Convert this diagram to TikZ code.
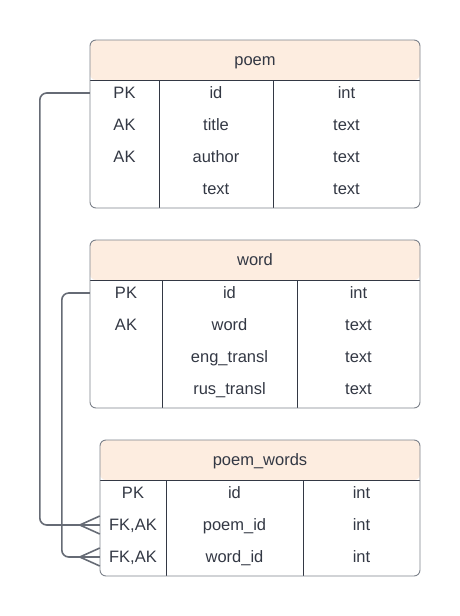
\documentclass[tikz,border=0pt]{standalone}
\usepackage{fontspec}
\setmainfont{Liberation Sans}
\usetikzlibrary{positioning}

\definecolor{headfill}{HTML}{FDEDE0}
\definecolor{boxline}{HTML}{7D828B}
\definecolor{inkgray}{HTML}{333844}
\definecolor{wiregray}{HTML}{666B75}

\tikzset{
  tbox/.style={draw=boxline,line width=0.9pt,rounded corners=6pt},
  colline/.style={draw=inkgray,line width=0.7pt},
  cell/.style={inner sep=0pt,minimum height=32pt,text height=14pt,text depth=3.5pt,
    text=inkgray,font=\fontsize{16.5}{18}\selectfont},
  wire/.style={draw=wiregray,line width=1.6pt,rounded corners=7pt},
  crow/.style={draw=wiregray,line width=1.6pt}
}

\begin{document}
\begin{tikzpicture}[x=1pt,y=-1pt]
            \useasboundingbox (0,0) rectangle (460,616);

            % poem
            \fill[headfill,rounded corners=6pt] (90,40) rectangle (420,80);
            \draw[colline] (90,80) -- (420,80);
            \draw[colline] (159,80) -- (159,208);
            \draw[colline] (273,80) -- (273,208);
            \draw[tbox] (90,40) rectangle (420,208);
            \node[cell] (poem) at (255,60) {poem};
            \node[cell,minimum width=69pt] (poempk) at (124.5,93) {PK};
            \node[cell] (poemid) at (216,93) {id};
            \node[cell] (poemidt) at (346.5,93) {int};
            \node[cell] (poemak1) at (124.5,125) {AK};
            \node[cell] (poemtitle) at (216,125) {title};
            \node[cell] (poemtitlet) at (346.5,125) {text};
            \node[cell] (poemak2) at (124.5,157) {AK};
            \node[cell] (poemauthor) at (216,157) {author};
            \node[cell] (poemauthort) at (346.5,157) {text};
            \node[cell] (poemtext) at (216,189) {text};
            \node[cell] (poemtextt) at (346.5,189) {text};

            % word
            \fill[headfill,rounded corners=6pt] (90,240) rectangle (420,280);
            \draw[colline] (90,280) -- (420,280);
            \draw[colline] (162,280) -- (162,408);
            \draw[colline] (297,280) -- (297,408);
            \draw[tbox] (90,240) rectangle (420,408);
            \node[cell] (word) at (255,260) {word};
            \node[cell,minimum width=72pt] (wordpk) at (126,293) {PK};
            \node[cell] (wordid) at (229.5,293) {id};
            \node[cell] (wordidt) at (358.5,293) {int};
            \node[cell] (wordak) at (126,325) {AK};
            \node[cell] (wordword) at (229.5,325) {word};
            \node[cell] (wordwordt) at (358.5,325) {text};
            \node[cell] (wordeng) at (229.5,357) {eng\_transl};
            \node[cell] (wordengt) at (358.5,357) {text};
            \node[cell] (wordrus) at (229.5,389) {rus\_transl};
            \node[cell] (wordrust) at (358.5,389) {text};

            % poem_words
            \fill[headfill,rounded corners=6pt] (100,440) rectangle (420,480);
            \draw[colline] (100,480) -- (420,480);
            \draw[colline] (166,480) -- (166,576);
            \draw[colline] (303,480) -- (303,576);
            \draw[tbox] (100,440) rectangle (420,576);
            \node[cell] (pw) at (260,460) {poem\_words};
            \node[cell,minimum width=66pt] (pwpk) at (133,493) {PK};
            \node[cell] (pwid) at (234.5,493) {id};
            \node[cell] (pwidt) at (361.5,493) {int};
            \node[cell,minimum width=66pt] (pwfk1) at (133,525) {FK,AK};
            \node[cell] (pwpoem) at (234.5,525) {poem\_id};
            \node[cell] (pwpoemt) at (361.5,525) {int};
            \node[cell,minimum width=66pt] (pwfk2) at (133,557) {FK,AK};
            \node[cell] (pwword) at (234.5,557) {word\_id};
            \node[cell] (pwwordt) at (361.5,557) {int};

            % relations
            \draw[wire] (poempk.west) -- ++(-50,0) |- (pwfk1.west);
            \draw[wire] (wordpk.west) -- ++(-28,0) |- (pwfk2.west);
            \draw[crow] (pwfk1.west) ++(-20,0) -- ++(20,-9) ++(-20,9) -- ++(20,9);
            \draw[crow] (pwfk2.west) ++(-20,0) -- ++(20,-9) ++(-20,9) -- ++(20,9);
\end{tikzpicture}
\end{document}
